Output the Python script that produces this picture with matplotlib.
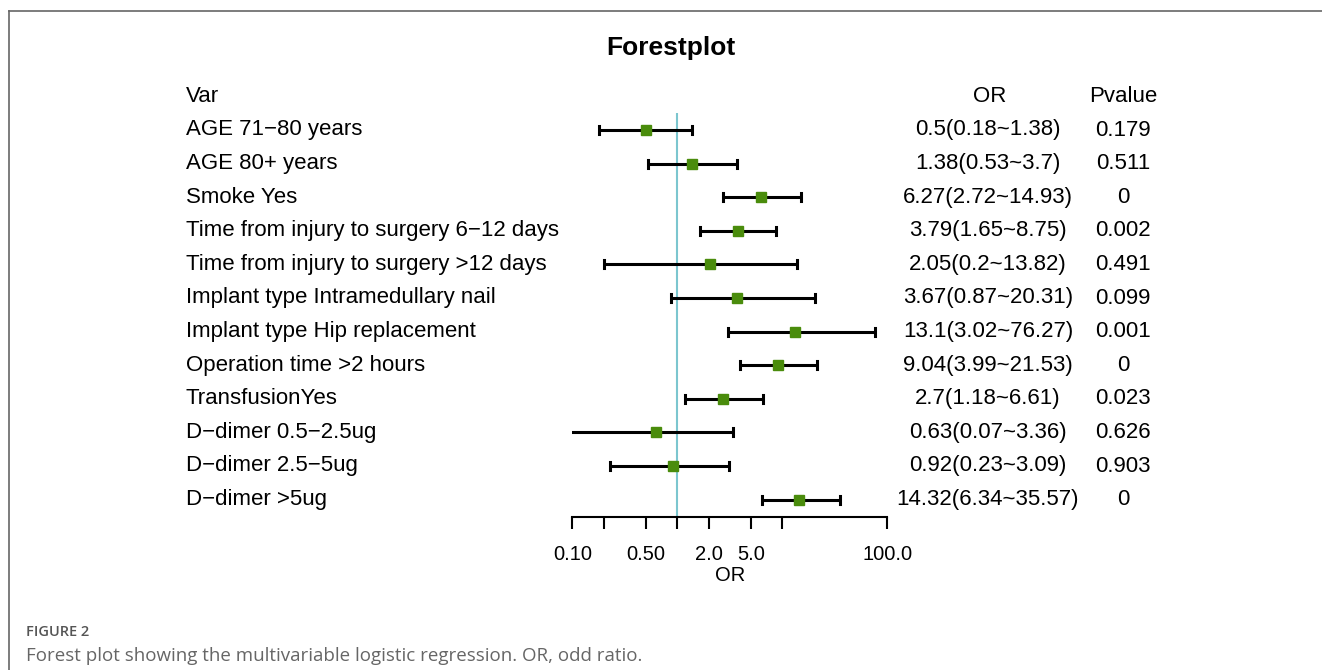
import matplotlib
matplotlib.use("Agg")
import matplotlib.pyplot as plt
import numpy as np
from matplotlib.transforms import blended_transform_factory

variables = ["AGE 71\u221280 years", "AGE 80+ years", "Smoke Yes",
             "Time from injury to surgery 6\u221212 days",
             "Time from injury to surgery >12 days",
             "Implant type Intramedullary nail", "Implant type Hip replacement",
             "Operation time >2 hours", "TransfusionYes",
             "D\u2212dimer 0.5\u22122.5ug", "D\u2212dimer 2.5\u22125ug", "D\u2212dimer >5ug"]
or_est = [0.5, 1.38, 6.27, 3.79, 2.05, 3.67, 13.1, 9.04, 2.7, 0.63, 0.92, 14.32]
ci_low = [0.18, 0.53, 2.72, 1.65, 0.2, 0.87, 3.02, 3.99, 1.18, 0.07, 0.23, 6.34]
ci_high = [1.38, 3.7, 14.93, 8.75, 13.82, 20.31, 76.27, 21.53, 6.61, 3.36, 3.09, 35.57]
or_text = ["0.5(0.18~1.38)", "1.38(0.53~3.7)", "6.27(2.72~14.93)", "3.79(1.65~8.75)",
           "2.05(0.2~13.82)", "3.67(0.87~20.31)", "13.1(3.02~76.27)", "9.04(3.99~21.53)",
           "2.7(1.18~6.61)", "0.63(0.07~3.36)", "0.92(0.23~3.09)", "14.32(6.34~35.57)"]
pvalues = ["0.179", "0.511", "0", "0.002", "0.491", "0.099", "0.001", "0",
           "0.023", "0.626", "0.903", "0"]
tick_vals = [0.1, 0.2, 0.5, 1, 2, 5, 10, 100]
tick_labels = ["0.10", "", "0.50", "", "2.0", "5.0", "", "100.0"]

W, H = 1322, 670
fig = plt.figure(figsize=(W / 100, H / 100), dpi=100)
plt.rcParams['font.family'] = ['Liberation Sans', 'DejaVu Sans']

def fx(px):
    return px / W

def fy(py):
    return 1 - py / H

# frame lines (top and left)
fig.add_artist(plt.Line2D([fx(9), 1], [fy(11), fy(11)], color='#666666', lw=1.2))
fig.add_artist(plt.Line2D([fx(9), fx(9)], [fy(11), 0], color='#666666', lw=1.2))

# forest axes
x0, x1 = 572.3, 887.3
ytop, ybot = 113, 517
ax = fig.add_axes([fx(x0), fy(ybot), fx(x1 - x0), (ybot - ytop) / H])
ax.set_xscale('log')
ax.set_xlim(0.1, 100)
row_h = 33.6
n = len(variables)
rows = np.arange(1, n + 1)
ax.set_ylim(1 + (ybot - 130) / row_h, 1 - (130 - ytop) / row_h)

ax.axvline(1, color='#7cc6cf', lw=1.5, zorder=1)
for y, lo, hi, est in zip(rows, ci_low, ci_high, or_est):
    ax.plot([lo, hi], [y, y], color='black', lw=2.2, zorder=2, solid_capstyle='butt')
    ax.plot([lo, lo], [y - 0.12, y + 0.12], color='black', lw=2.2, zorder=2)
    ax.plot([hi, hi], [y - 0.12, y + 0.12], color='black', lw=2.2, zorder=2)
    ax.plot([est], [y], marker='s', ms=7, color='#4a8c0c', mec='#4a8c0c', zorder=3)

for s in ['top', 'right', 'left']:
    ax.spines[s].set_visible(False)
ax.spines['bottom'].set_linewidth(1.5)
ax.set_yticks([])
ax.set_xticks(tick_vals)
ax.set_xticklabels(tick_labels, fontsize=14.5)
ax.xaxis.set_minor_locator(matplotlib.ticker.NullLocator())
ax.tick_params(axis='x', direction='out', length=8.5, width=1.5, pad=12)
ax.set_xlabel("OR", fontsize=14.5, labelpad=1)

tr = blended_transform_factory(fig.transFigure, ax.transData)
fs = 16
for y, v, o, p in zip(rows, variables, or_text, pvalues):
    ax.text(fx(186), y, v, transform=tr, ha='left', va='center', fontsize=fs, clip_on=False)
    ax.text(fx(988), y, o, transform=tr, ha='center', va='center', fontsize=fs, clip_on=False)
    ax.text(fx(1123), y, p, transform=tr, ha='center', va='center', fontsize=fs, clip_on=False)

fig.text(fx(186), fy(97), "Var", ha='left', va='center', fontsize=fs)
fig.text(fx(990), fy(97), "OR", ha='center', va='center', fontsize=fs)
fig.text(fx(1123), fy(97), "Pvalue", ha='center', va='center', fontsize=fs)
fig.text(fx(671), fy(48), "Forestplot", ha='center', va='center', fontsize=19, fontweight='bold')

fig.text(fx(26), fy(632), "FIGURE 2", ha='left', va='center', fontsize=10.5, fontweight='semibold',
         color='#555555', family=['Open Sans', 'DejaVu Sans'])
fig.text(fx(26), fy(656), "Forest plot showing the multivariable logistic regression. OR, odd ratio.",
         ha='left', va='center', fontsize=13.5, color='#666666', family=['Open Sans', 'DejaVu Sans'])

fig.savefig("out.png", dpi=100)
